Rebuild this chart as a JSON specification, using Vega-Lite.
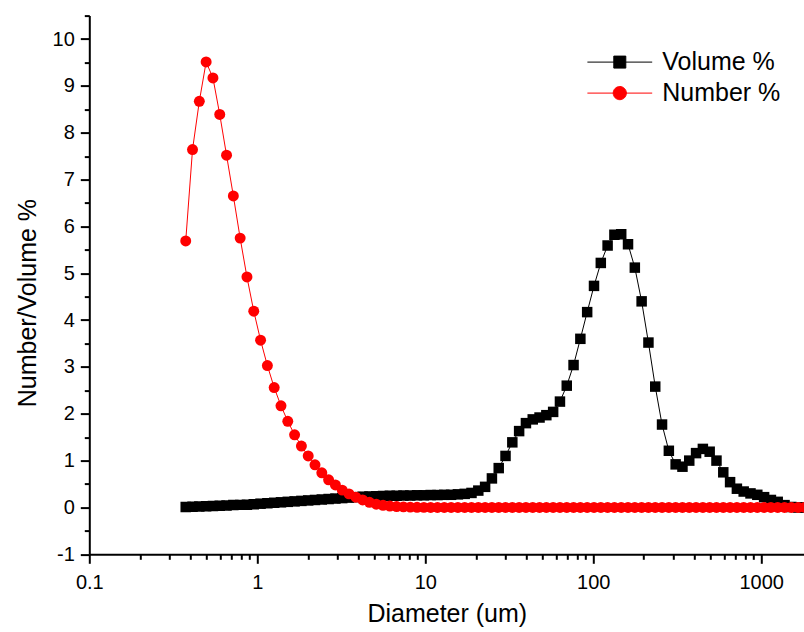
{
  "$schema": "https://vega.github.io/schema/vega-lite/v6.json",
  "width": 715,
  "height": 538.7,
  "autosize": {"type": "none"},
  "padding": {"left": 89.3, "top": 15.6, "right": 0, "bottom": 77.7},
  "config": {
    "view": {"stroke": null},
    "font": "Liberation Sans",
    "axis": {"labelFont": "Liberation Sans", "titleFont": "Liberation Sans", "labelColor": "black", "titleColor": "black", "domainColor": "black", "tickColor": "black", "domainWidth": 2, "tickWidth": 2, "ticks": true, "grid": false, "labelFontSize": 20, "titleFontSize": 25, "titleFontWeight": "normal", "labelOverlap": false, "labelFlush": false}
  },
  "data": {"values": [
    {"d": 0.375, "vol": 0.01, "num": 5.69},
    {"d": 0.4117, "vol": 0.015, "num": 7.64},
    {"d": 0.4519, "vol": 0.02, "num": 8.67},
    {"d": 0.4961, "vol": 0.025, "num": 9.51},
    {"d": 0.5446, "vol": 0.03, "num": 9.17},
    {"d": 0.5978, "vol": 0.035, "num": 8.39},
    {"d": 0.6562, "vol": 0.04, "num": 7.52},
    {"d": 0.7204, "vol": 0.05, "num": 6.65},
    {"d": 0.7908, "vol": 0.055, "num": 5.75},
    {"d": 0.8681, "vol": 0.06, "num": 4.92},
    {"d": 0.9531, "vol": 0.07, "num": 4.19},
    {"d": 1.0463, "vol": 0.08, "num": 3.57},
    {"d": 1.1486, "vol": 0.09, "num": 3.03},
    {"d": 1.2609, "vol": 0.1, "num": 2.56},
    {"d": 1.3841, "vol": 0.11, "num": 2.17},
    {"d": 1.5194, "vol": 0.12, "num": 1.84},
    {"d": 1.6681, "vol": 0.13, "num": 1.55},
    {"d": 1.8311, "vol": 0.14, "num": 1.31},
    {"d": 2.0101, "vol": 0.15, "num": 1.1},
    {"d": 2.2066, "vol": 0.16, "num": 0.91},
    {"d": 2.4223, "vol": 0.17, "num": 0.74},
    {"d": 2.6591, "vol": 0.18, "num": 0.59},
    {"d": 2.919, "vol": 0.19, "num": 0.48},
    {"d": 3.2044, "vol": 0.2, "num": 0.37},
    {"d": 3.5176, "vol": 0.21, "num": 0.29},
    {"d": 3.8615, "vol": 0.22, "num": 0.22},
    {"d": 4.239, "vol": 0.23, "num": 0.16},
    {"d": 4.6534, "vol": 0.235, "num": 0.11},
    {"d": 5.1084, "vol": 0.24, "num": 0.07},
    {"d": 5.6077, "vol": 0.245, "num": 0.045},
    {"d": 6.1559, "vol": 0.25, "num": 0.03},
    {"d": 6.7577, "vol": 0.25, "num": 0.02},
    {"d": 7.4183, "vol": 0.255, "num": 0.012},
    {"d": 8.1435, "vol": 0.255, "num": 0.007},
    {"d": 8.9396, "vol": 0.26, "num": 0.004},
    {"d": 9.8135, "vol": 0.26, "num": 0.002},
    {"d": 10.773, "vol": 0.265, "num": 0.001},
    {"d": 11.826, "vol": 0.265, "num": 0},
    {"d": 12.982, "vol": 0.27, "num": 0},
    {"d": 14.256, "vol": 0.27, "num": 0},
    {"d": 15.646, "vol": 0.28, "num": 0},
    {"d": 17.176, "vol": 0.29, "num": 0},
    {"d": 18.855, "vol": 0.31, "num": 0},
    {"d": 20.699, "vol": 0.36, "num": 0},
    {"d": 22.722, "vol": 0.44, "num": 0},
    {"d": 24.943, "vol": 0.62, "num": 0},
    {"d": 27.382, "vol": 0.84, "num": 0},
    {"d": 30.058, "vol": 1.1, "num": 0},
    {"d": 32.997, "vol": 1.39, "num": 0},
    {"d": 36.223, "vol": 1.63, "num": 0},
    {"d": 39.764, "vol": 1.8, "num": 0},
    {"d": 43.651, "vol": 1.88, "num": 0},
    {"d": 47.918, "vol": 1.92, "num": 0},
    {"d": 52.602, "vol": 1.97, "num": 0},
    {"d": 57.745, "vol": 2.04, "num": 0},
    {"d": 63.39, "vol": 2.26, "num": 0},
    {"d": 69.587, "vol": 2.6, "num": 0},
    {"d": 76.39, "vol": 3.04, "num": 0},
    {"d": 83.858, "vol": 3.6, "num": 0},
    {"d": 92.056, "vol": 4.17, "num": 0},
    {"d": 101.1, "vol": 4.73, "num": 0},
    {"d": 110.98, "vol": 5.22, "num": 0},
    {"d": 121.83, "vol": 5.59, "num": 0},
    {"d": 133.74, "vol": 5.82, "num": 0},
    {"d": 146.81, "vol": 5.83, "num": 0},
    {"d": 161.17, "vol": 5.62, "num": 0},
    {"d": 176.92, "vol": 5.12, "num": 0},
    {"d": 194.22, "vol": 4.4, "num": 0},
    {"d": 213.21, "vol": 3.52, "num": 0},
    {"d": 234.05, "vol": 2.58, "num": 0},
    {"d": 256.93, "vol": 1.77, "num": 0},
    {"d": 282.05, "vol": 1.21, "num": 0},
    {"d": 309.62, "vol": 0.92, "num": 0},
    {"d": 339.89, "vol": 0.87, "num": 0},
    {"d": 373.12, "vol": 1.0, "num": 0},
    {"d": 409.6, "vol": 1.16, "num": 0},
    {"d": 449.64, "vol": 1.25, "num": 0},
    {"d": 493.6, "vol": 1.19, "num": 0},
    {"d": 541.86, "vol": 1.0, "num": 0},
    {"d": 594.83, "vol": 0.75, "num": 0},
    {"d": 652.98, "vol": 0.54, "num": 0},
    {"d": 716.82, "vol": 0.4, "num": 0},
    {"d": 786.9, "vol": 0.34, "num": 0},
    {"d": 863.84, "vol": 0.3, "num": 0},
    {"d": 948.29, "vol": 0.27, "num": 0},
    {"d": 1041.0, "vol": 0.22, "num": 0},
    {"d": 1142.8, "vol": 0.16, "num": 0},
    {"d": 1254.5, "vol": 0.12, "num": 0},
    {"d": 1377.2, "vol": 0.05, "num": 0},
    {"d": 1511.8, "vol": 0.01, "num": 0},
    {"d": 1659.6, "vol": 0, "num": 0},
    {"d": 1821.9, "vol": 0, "num": 0},
    {"d": 2000, "vol": 0, "num": 0}
  ]},
  "resolve": {"axis": {"x": "independent", "y": "independent"}},
  "layer": [
    {
      "mark": {"type": "line", "strokeWidth": 1, "clip": true},
      "encoding": {
        "x": {
          "field": "d", "type": "quantitative",
          "scale": {"type": "log", "domain": [0.1, 1806], "nice": false},
          "title": "Diameter (um)",
          "axis": {
            "orient": "bottom",
            "values": [0.1, 1, 10, 100, 1000],
            "labelExpr": "'' + datum.value",
            "tickSize": 9,
            "labelPadding": 9,
            "titlePadding": 9
          }
        },
        "y": {
          "field": "vol", "type": "quantitative",
          "scale": {"domain": [-1, 10.5], "nice": false, "zero": false},
          "title": "Number/Volume %",
          "axis": {
            "orient": "left",
            "values": [-1, 0, 1, 2, 3, 4, 5, 6, 7, 8, 9, 10],
            "labelExpr": "'' + datum.value",
            "tickSize": 9,
            "labelPadding": 6,
            "titlePadding": 12,
            "titleY": 287
          }
        },
        "color": {
          "datum": "Volume %",
          "scale": {"domain": ["Volume %", "Number %"], "range": ["black", "red"]},
          "legend": {
            "orient": "none", "legendX": 518, "legendY": 34, "title": null,
            "labelFontSize": 25, "labelFont": "Liberation Sans", "labelColor": "black",
            "labelOffset": 30, "rowPadding": 5, "padding": 0, "symbolSize": 144,
            "encode": {
              "symbols": {
                "update": {
                  "shape": {"signal": "datum.value === 'Volume %' ? 'M-5.4,0H5.4M-1,-1H1V1H-1Z' : 'M-5.4,0H5.4M-1.1,0A1.1,1.1,0,1,0,1.1,0A1.1,1.1,0,1,0,-1.1,0Z'"},
                  "fill": {"signal": "datum.value === 'Volume %' ? 'black' : 'red'"},
                  "stroke": {"signal": "datum.value === 'Volume %' ? 'black' : 'red'"},
                  "strokeWidth": {"value": 1},
                  "size": {"value": 144},
                  "opacity": {"value": 1}
                }
              }
            }
          }
        }
      }
    },
    {
      "mark": {"type": "point", "shape": "square", "filled": true, "size": 110, "opacity": 1, "clip": true},
      "encoding": {
        "x": {
          "field": "d", "type": "quantitative",
          "axis": {
            "orient": "bottom",
            "values": [0.2, 0.3, 0.4, 0.5, 0.6, 0.7, 0.8, 0.9, 2, 3, 4, 5, 6, 7, 8, 9, 20, 30, 40, 50, 60, 70, 80, 90, 200, 300, 400, 500, 600, 700, 800, 900],
            "labels": false, "domain": false, "title": null, "tickSize": 5
          }
        },
        "y": {
          "field": "vol", "type": "quantitative",
          "axis": {
            "orient": "left",
            "values": [-0.5, 0.5, 1.5, 2.5, 3.5, 4.5, 5.5, 6.5, 7.5, 8.5, 9.5, 10.5],
            "labels": false, "domain": false, "title": null, "tickSize": 5
          }
        },
        "color": {"datum": "Volume %"}
      }
    },
    {
      "mark": {"type": "line", "strokeWidth": 1, "clip": true},
      "encoding": {
        "x": {"field": "d", "type": "quantitative", "axis": null},
        "y": {"field": "num", "type": "quantitative", "axis": null},
        "color": {"datum": "Number %"}
      }
    },
    {
      "mark": {"type": "point", "shape": "circle", "filled": true, "size": 120, "opacity": 1, "clip": true},
      "encoding": {
        "x": {"field": "d", "type": "quantitative", "axis": null},
        "y": {"field": "num", "type": "quantitative", "axis": null},
        "color": {"datum": "Number %"}
      }
    }
  ]
}
